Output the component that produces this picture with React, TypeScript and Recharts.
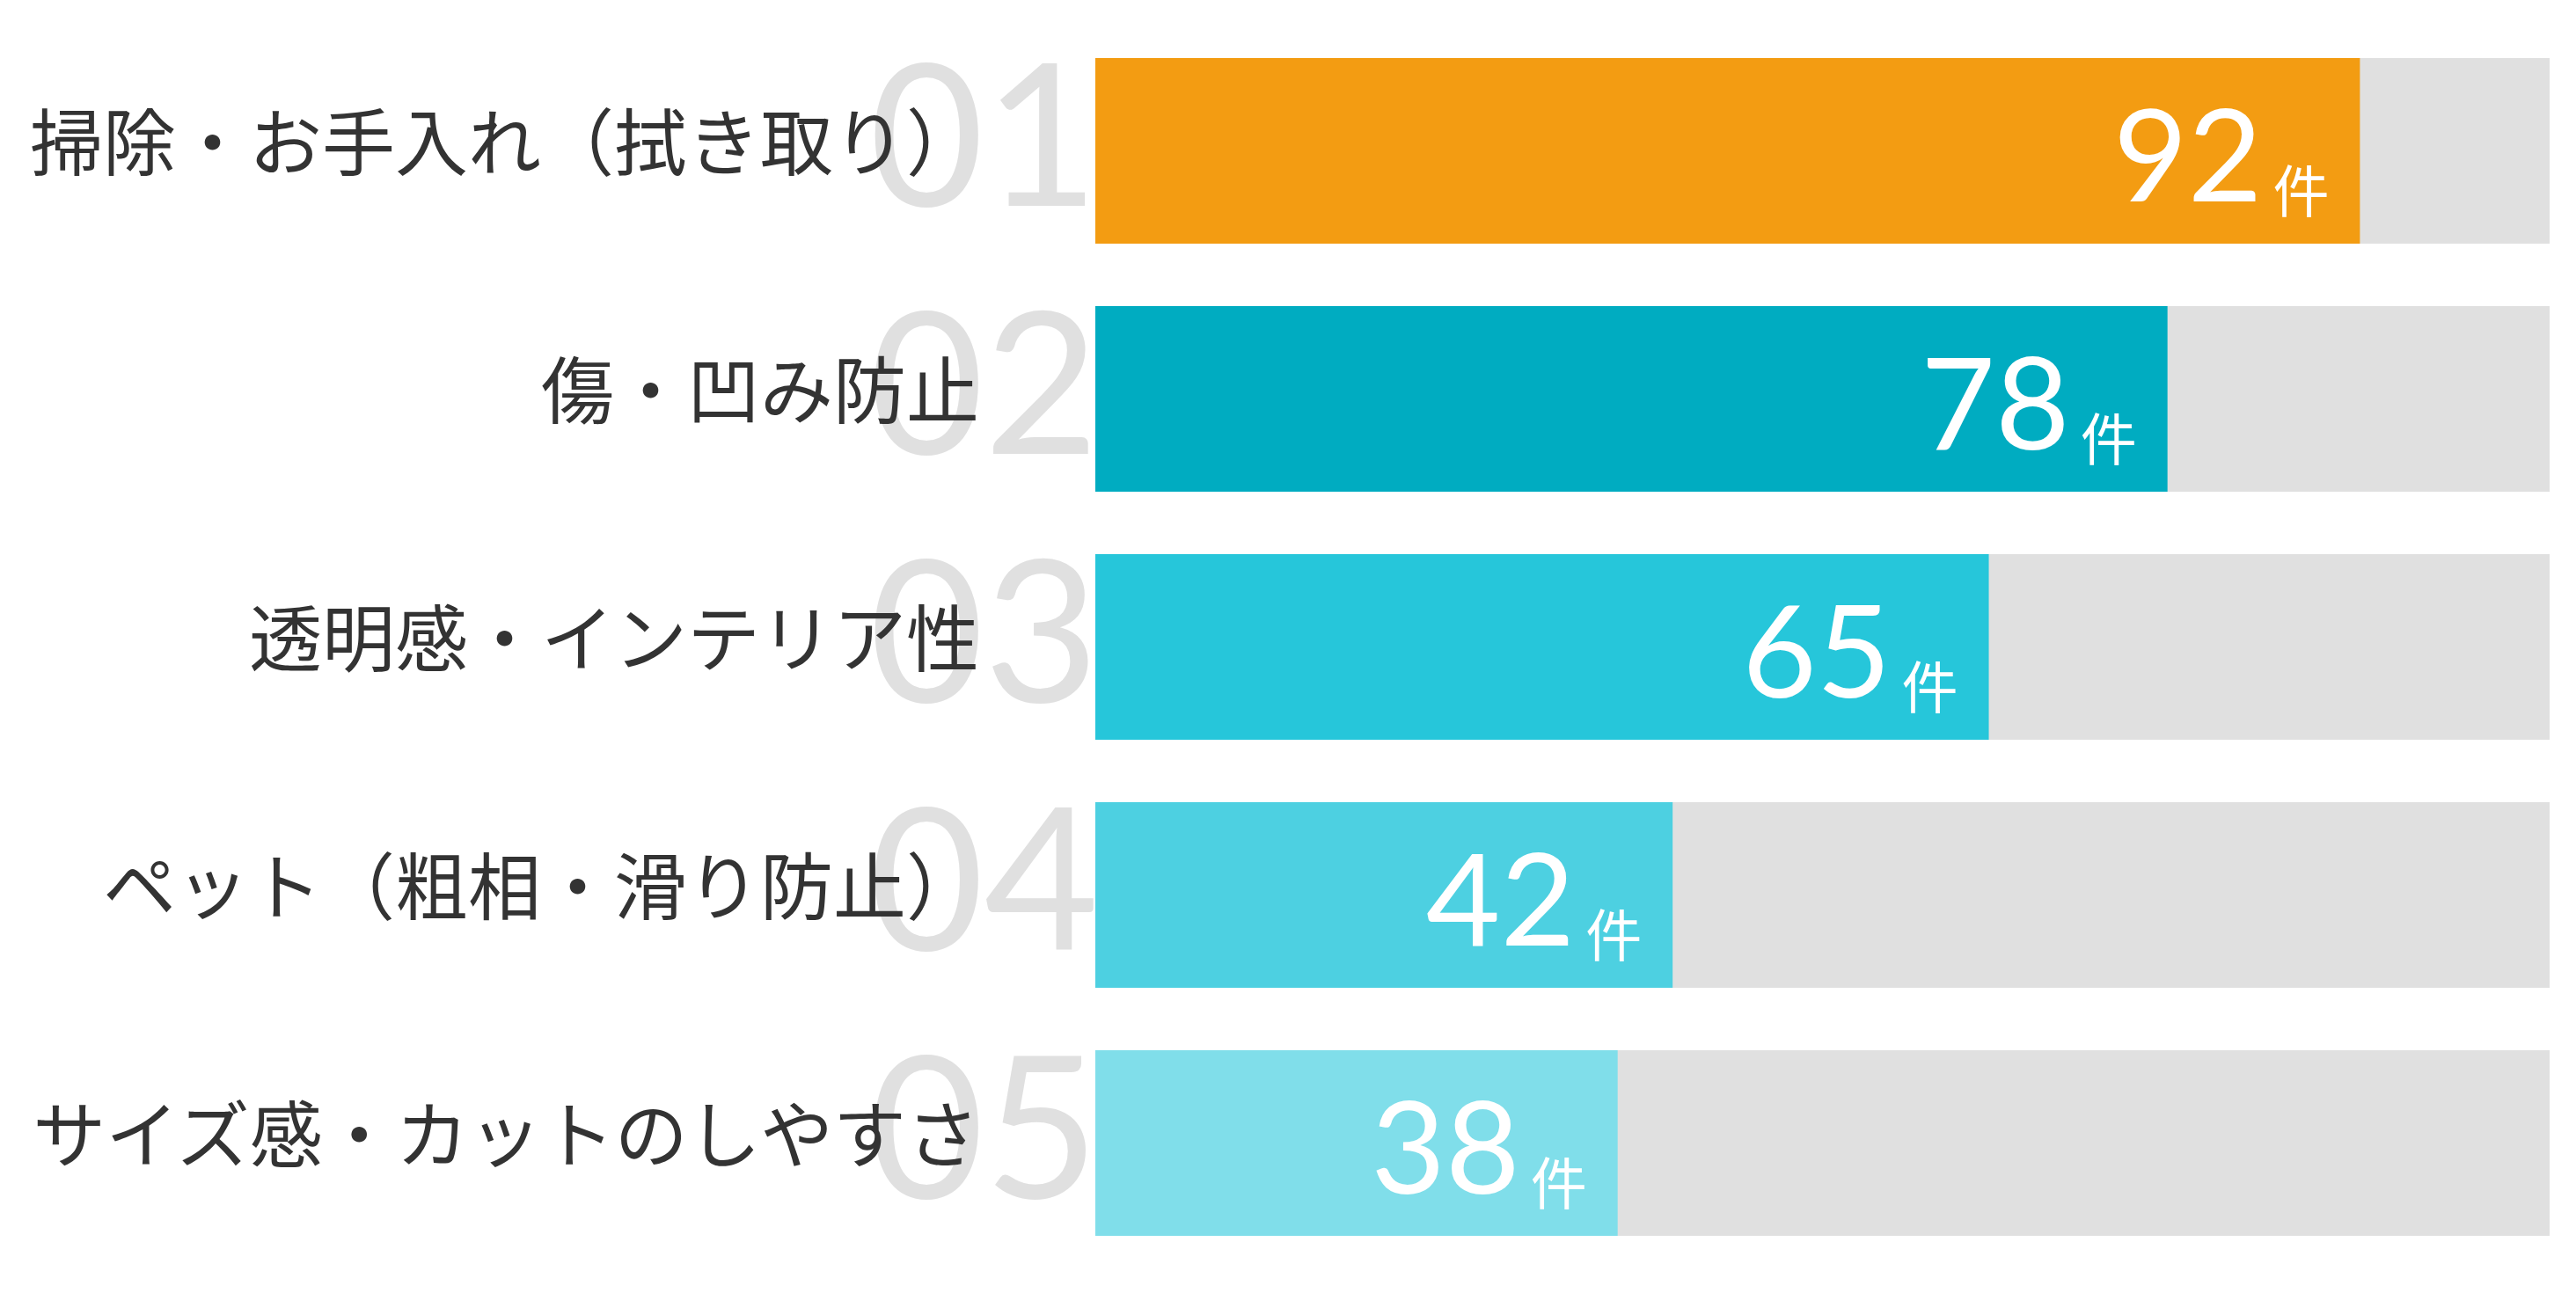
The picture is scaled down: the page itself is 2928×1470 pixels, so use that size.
import { BarChart, Bar, XAxis, YAxis, Cell, LabelList } from 'recharts';

const categories = [
  '掃除・お手入れ（拭き取り）',
  '傷・凹み防止',
  '透明感・インテリア性',
  'ペット（粗相・滑り防止）',
  'サイズ感・カットのしやすさ',
];
const counts = [92, 78, 65, 42, 38];
const ranks = ['01', '02', '03', '04', '05'];
const barColors = ['#f39c12', '#00acc1', '#26c6da', '#4dd0e1', '#80deea'];
const unit = '件';

const data = categories.map((name, i) => ({ name, count: counts[i], rank: ranks[i] }));

const JP_FONT = '"Noto Sans CJK JP", "Noto Sans", sans-serif';
const NUM_FONT = 'Lato, "Noto Sans", sans-serif';

function RankTick(props: any) {
  const { x, y, payload } = props;
  const idx = payload?.index ?? props.index ?? 0;
  return (
    <g>
      <text
        x={x + 4}
        y={y + 63}
        textAnchor="end"
        fill="#e0e0e0"
        fontSize={225}
        fontWeight={400}
        fontFamily={NUM_FONT}
      >
        {ranks[idx]}
      </text>
      <text
        x={x - 132}
        y={y + 22}
        textAnchor="end"
        fill="#333333"
        fontSize={83}
        fontFamily={JP_FONT}
      >
        {payload.value}
      </text>
    </g>
  );
}

function CountLabel(props: any) {
  const { x, y, width, height, value } = props;
  const right = x + width - 35;
  const cy = y + height / 2;
  return (
    <g>
      <text x={right} y={cy + 69} textAnchor="end" fill="#ffffff" fontSize={64} fontFamily={JP_FONT}>
        {unit}
      </text>
      <text
        x={right - 76}
        y={cy + 57}
        textAnchor="end"
        fill="#ffffff"
        fontSize={146}
        fontFamily={NUM_FONT}
      >
        {value}
      </text>
    </g>
  );
}

export default function App() {
  return (
    <div style={{ position: 'absolute', top: 0, left: 0, background: '#ffffff' }}>
      <BarChart
        width={2928}
        height={1470}
        data={data}
        layout="vertical"
        margin={{ top: 30, right: 30, left: 0, bottom: 30 }}
      >
        <XAxis type="number" hide domain={[0, (dataMax: number) => dataMax * 1.15]} />
        <YAxis
          type="category"
          dataKey="name"
          width={1245}
          axisLine={false}
          tickLine={false}
          tickSize={0}
          tickMargin={0}
          tick={<RankTick />}
          interval={0}
        />
        <Bar dataKey="count" barSize={211} background={{ fill: '#e0e0e0' }} isAnimationActive={false}>
          {data.map((d, i) => (
            <Cell key={d.name} fill={barColors[i]} />
          ))}
          <LabelList dataKey="count" content={<CountLabel />} />
        </Bar>
      </BarChart>
    </div>
  );
}
